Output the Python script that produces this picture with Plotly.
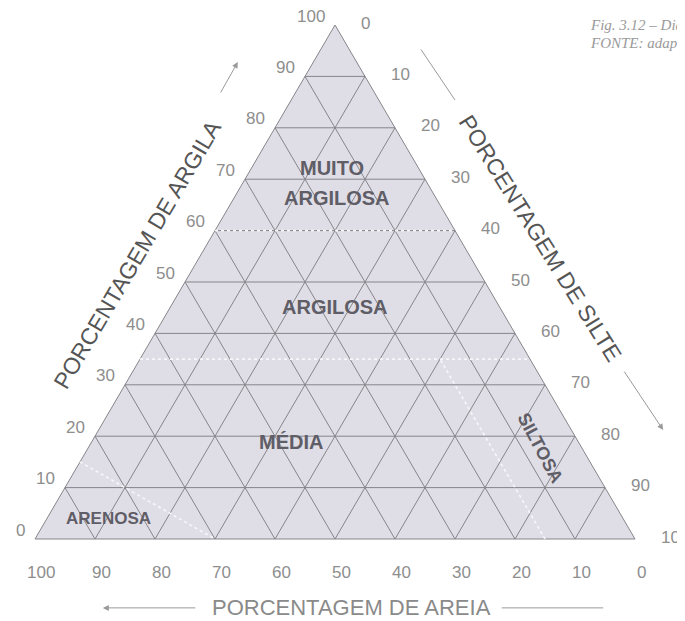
import plotly.graph_objects as go

# ternary soil texture diagram (argila / silte / areia, in %)
TICKS = [0, 10, 20, 30, 40, 50, 60, 70, 80, 90, 100]
GRID = [10, 20, 30, 40, 50, 60, 70, 80, 90]

# class limits
MUITO_ARGILOSA_MIN_ARGILA = 60
ARGILOSA_MIN_ARGILA = 35
SILTOSA_MAX_AREIA = 15
# arenosa upper limit: (argila, silte) end points
ARENOSA_LIMIT = [(15, 0), (0, 30)]

FILL = "#dfdee6"
GRID_COLOR = "#85858a"
TICK_COLOR = "#8e8e8e"
LABEL_COLOR = "#5f5d66"


def xy(argila, silte):
    # bottom-left = 100% areia, bottom-right = 100% silte, top = 100% argila
    return silte + argila / 2, argila


def seg_trace(segs, color, width, dash="solid"):
    xs, ys = [], []
    for (a0, s0), (a1, s1) in segs:
        x0, y0 = xy(a0, s0)
        x1, y1 = xy(a1, s1)
        xs += [x0, x1, None]
        ys += [y0, y1, None]
    return go.Scatter(x=xs, y=ys, mode="lines", hoverinfo="skip",
                      line=dict(color=color, width=width, dash=dash))


fig = go.Figure()

# triangle fill
corners = [(0, 0), (0, 100), (100, 0), (0, 0)]
fig.add_trace(go.Scatter(
    x=[xy(a, s)[0] for a, s in corners], y=[xy(a, s)[1] for a, s in corners],
    mode="lines", fill="toself", fillcolor=FILL,
    line=dict(color=GRID_COLOR, width=1), hoverinfo="skip"))

# grid: constant argila, constant silte, constant areia
segs = []
for k in GRID:
    segs.append(((k, 0), (k, 100 - k)))          # argila = k
    segs.append(((0, k), (100 - k, k)))          # silte = k
    segs.append(((0, 100 - k), (100 - k, 0)))    # areia = k
fig.add_trace(seg_trace(segs, GRID_COLOR, 1))

# class boundaries (dotted, light)
bsegs = [
    ((MUITO_ARGILOSA_MIN_ARGILA, 0), (MUITO_ARGILOSA_MIN_ARGILA, 100 - MUITO_ARGILOSA_MIN_ARGILA)),
    ((ARGILOSA_MIN_ARGILA, 0), (ARGILOSA_MIN_ARGILA, 100 - ARGILOSA_MIN_ARGILA)),
    ((0, 100 - SILTOSA_MAX_AREIA), (ARGILOSA_MIN_ARGILA, 100 - SILTOSA_MAX_AREIA - ARGILOSA_MIN_ARGILA)),
    (ARENOSA_LIMIT[0], ARENOSA_LIMIT[1]),
]
fig.add_trace(seg_trace(bsegs, "#f7f7fa", 1.6, "dot"))

ann = []
tick_font = dict(family="Liberation Sans, Arial, sans-serif", size=17, color=TICK_COLOR)
for k in TICKS:
    # argila on left edge
    x, y = xy(k, 0)
    ann.append(dict(x=x, y=y, text=str(k), showarrow=False, xanchor="right",
                    yanchor="middle", xshift=-8, yshift=9, font=tick_font))
    # silte on right edge
    x, y = xy(100 - k, k)
    ann.append(dict(x=x, y=y, text=str(k), showarrow=False, xanchor="left",
                    yanchor="middle", xshift=24, yshift=2, font=tick_font))
    # areia on bottom edge
    x, y = xy(0, 100 - k)
    ann.append(dict(x=x, y=y, text=str(k), showarrow=False, xanchor="center",
                    yanchor="middle", xshift=6, yshift=-33, font=tick_font))

lab_font = dict(family="Liberation Sans, Arial, sans-serif", size=20, color=LABEL_COLOR)
for txt, x, y, ang, sz in [
    ("<b>MUITO</b>", 49.5, 72.2, 0, 20),
    ("<b>ARGILOSA</b>", 50.3, 66.3, 0, 20),
    ("<b>ARGILOSA</b>", 50.0, 45.1, 0, 20),
    ("<b>MÉDIA</b>", 42.7, 18.9, 0, 20),
    ("<b>ARENOSA</b>", 12.2, 3.9, 0, 17),
    ("<b>SILTOSA</b>", 84.2, 17.7, 62, 18),
]:
    ann.append(dict(x=x, y=y, text=txt, showarrow=False, textangle=ang,
                    font=dict(lab_font, size=sz)))

title_font = dict(family="Liberation Sans, Arial, sans-serif", size=23, color="#555555")
ann.append(dict(x=17.0, y=55.3, text="PORCENTAGEM DE ARGILA", showarrow=False,
                textangle=-59.5, font=title_font))
ann.append(dict(x=84.2, y=58.6, text="PORCENTAGEM DE SILTE", showarrow=False,
                textangle=58, font=title_font))
ann.append(dict(x=52.7, y=-13.4, text="PORCENTAGEM DE AREIA", showarrow=False,
                font=dict(title_font, size=22, color="#8a8a8a")))

# arrows along the axis titles
arrow = dict(showarrow=True, text="", arrowhead=2, arrowsize=1.2, arrowwidth=1,
             arrowcolor="#9a9a9a", axref="pixel", ayref="pixel")
ann.append(dict(arrow, x=33.8, y=92.8, ax=-18, ay=32))
ann.append(dict(arrow, x=104.7, y=21.2, ax=-40, ay=-60))
ann.append(dict(arrow, x=70.0, y=85.4, ax=-35, ay=-52, arrowhead=0))
ann.append(dict(arrow, x=11.3, y=-13.4, ax=94, ay=0))
ann.append(dict(arrow, x=94.7, y=-13.4, ax=-103, ay=0, arrowhead=0))

cap_font = dict(family="Liberation Serif, Times New Roman, serif", size=15, color="#9a9a9a")
ann.append(dict(x=92.2, y=100.0, xanchor="left", yanchor="middle",
                text="<i>Fig. 3.12 – Diagrama</i>", showarrow=False, font=cap_font))
ann.append(dict(x=92.2, y=96.5, xanchor="left", yanchor="middle",
                text="<i>FONTE: adaptado</i>", showarrow=False, font=cap_font))

# page body adds an 8px margin, so the figure is 8px smaller than the window;
# the axes fill the whole figure so that every annotation anchor is in range
fig.update_layout(
    width=677, height=613,
    margin=dict(l=0, r=0, t=0, b=0),
    paper_bgcolor="white", plot_bgcolor="white",
    showlegend=False,
    annotations=ann,
    xaxis=dict(range=[-4.5, 108.333], visible=False, fixedrange=True),
    yaxis=dict(range=[-15.953, 103.307], visible=False, fixedrange=True),
)

fig.write_html("out.html")
